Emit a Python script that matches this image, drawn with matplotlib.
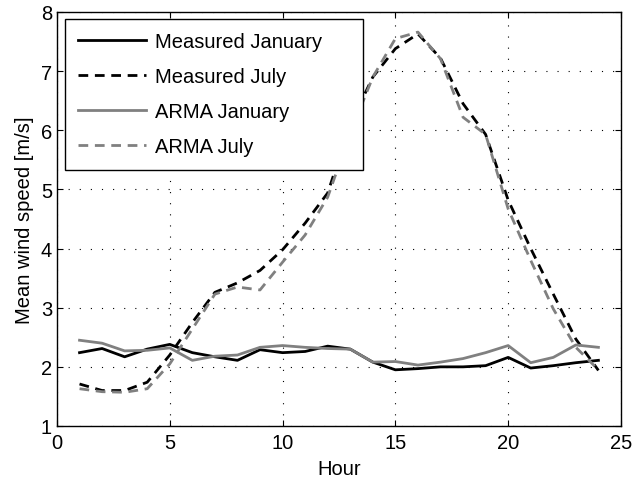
import numpy as np
import matplotlib
matplotlib.use('Agg')
import matplotlib.pyplot as plt

plt.rcParams['font.family'] = ['Liberation Sans', 'DejaVu Sans']

hours = np.arange(1, 25)

meas_jan = [2.24, 2.31, 2.17, 2.30, 2.38, 2.24, 2.17, 2.11, 2.29, 2.24, 2.26, 2.35,
            2.30, 2.08, 1.95, 1.97, 2.00, 2.00, 2.02, 2.16, 1.98, 2.02, 2.07, 2.11]
meas_jul = [1.71, 1.60, 1.60, 1.74, 2.20, 2.75, 3.26, 3.42, 3.63, 3.98, 4.43, 4.94,
            6.10, 6.90, 7.38, 7.63, 7.22, 6.45, 5.93, 4.82, 4.00, 3.23, 2.47, 1.94]
arma_jan = [2.45, 2.40, 2.27, 2.28, 2.32, 2.11, 2.18, 2.20, 2.33, 2.36, 2.33, 2.31,
            2.30, 2.08, 2.09, 2.03, 2.08, 2.14, 2.24, 2.36, 2.07, 2.16, 2.37, 2.33]
arma_jul = [1.63, 1.58, 1.57, 1.63, 2.05, 2.64, 3.23, 3.35, 3.30, 3.77, 4.23, 4.87,
            5.95, 6.90, 7.55, 7.66, 7.21, 6.22, 5.93, 4.67, 3.80, 2.98, 2.33, 1.95]

labels = ['Measured January', 'Measured July', 'ARMA January', 'ARMA July']

fs = 14.5
fig = plt.figure(figsize=(6.33, 4.85), dpi=100)
ax = fig.add_axes([0.090, 0.1196, 0.891, 0.8536])

gray = '#808080'
lw = 2.0
dash = (3.5, 2.4)
ax.plot(hours, meas_jan, color='black', lw=lw, label=labels[0])
ax.plot(hours, meas_jul, color='black', lw=lw, ls=(0, dash), label=labels[1])
ax.plot(hours, arma_jan, color=gray, lw=lw, label=labels[2])
ax.plot(hours, arma_jul, color=gray, lw=lw, ls=(0, dash), label=labels[3])

ax.set_xlim(0, 25)
ax.set_ylim(1, 8)
ax.set_xticks(range(0, 26, 5))
ax.set_yticks(range(1, 9))
ax.grid(True, ls=(0, (1, 9)), color='black', lw=0.8)
ax.tick_params(direction='in', top=True, right=True, labelsize=fs, length=4)
ax.tick_params(axis='x', pad=5)
for s in ax.spines.values():
    s.set_linewidth(1.0)

ax.set_xlabel('Hour', fontsize=fs, labelpad=5)
ax.set_ylabel('Mean wind speed [m/s]', fontsize=fs, labelpad=5)

leg = ax.legend(loc='upper left', bbox_to_anchor=(0.0142, 0.630, 0.528, 0.353),
                mode='expand', fontsize=fs, frameon=True, fancybox=False,
                edgecolor='black', framealpha=1, handlelength=3.35,
                handletextpad=0.45, labelspacing=0.8, borderpad=0.65,
                borderaxespad=0)
leg.get_frame().set_linewidth(1.0)

fig.savefig('out.png', dpi=100)
